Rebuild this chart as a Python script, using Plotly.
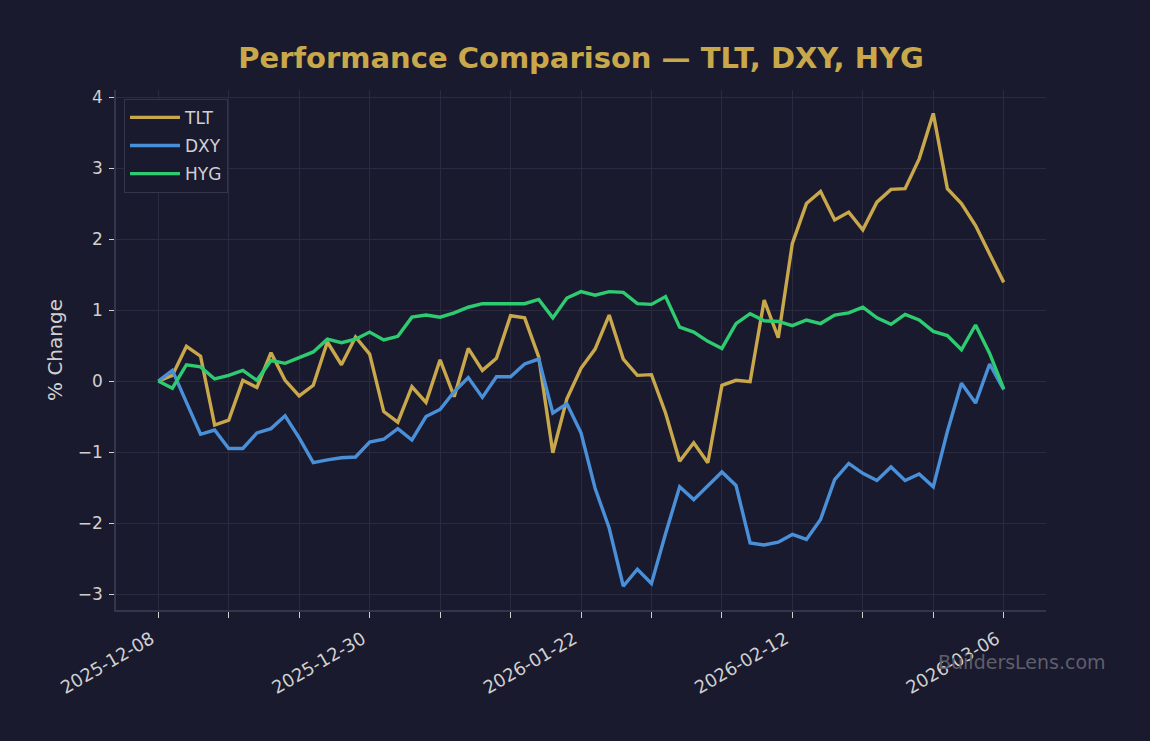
import plotly.graph_objects as go

dates = [
    "2025-12-08", "2025-12-09", "2025-12-10", "2025-12-11", "2025-12-12",
    "2025-12-15", "2025-12-16", "2025-12-17", "2025-12-18", "2025-12-19",
    "2025-12-22", "2025-12-23", "2025-12-24", "2025-12-26", "2025-12-29",
    "2025-12-30", "2025-12-31", "2026-01-02", "2026-01-05", "2026-01-06",
    "2026-01-07", "2026-01-08", "2026-01-09", "2026-01-12", "2026-01-13",
    "2026-01-14", "2026-01-15", "2026-01-16", "2026-01-20", "2026-01-21",
    "2026-01-22", "2026-01-23", "2026-01-26", "2026-01-27", "2026-01-28",
    "2026-01-29", "2026-01-30", "2026-02-02", "2026-02-03", "2026-02-04",
    "2026-02-05", "2026-02-06", "2026-02-09", "2026-02-10", "2026-02-11",
    "2026-02-12", "2026-02-13", "2026-02-17", "2026-02-18", "2026-02-19",
    "2026-02-20", "2026-02-23", "2026-02-24", "2026-02-25", "2026-02-26",
    "2026-02-27", "2026-03-02", "2026-03-03", "2026-03-04", "2026-03-05",
    "2026-03-06",
]

tlt = [0.00, 0.08, 0.49, 0.35, -0.62, -0.55, 0.01, -0.09, 0.40, 0.01,
       -0.21, -0.06, 0.55, 0.23, 0.62, 0.38, -0.43, -0.58, -0.08, -0.30,
       0.30, -0.22, 0.46, 0.15, 0.32, 0.92, 0.89, 0.34, -1.01, -0.25,
       0.18, 0.45, 0.93, 0.31, 0.08, 0.09, -0.45, -1.13, -0.87, -1.15,
       -0.06, 0.01, -0.01, 1.14, 0.61, 1.94, 2.50, 2.67, 2.27, 2.38,
       2.13, 2.52, 2.70, 2.71, 3.13, 3.77, 2.71, 2.50, 2.19, 1.78, 1.39]

dxy = [0.00, 0.15, -0.30, -0.75, -0.69, -0.95, -0.95, -0.73, -0.67, -0.49,
       -0.80, -1.15, -1.11, -1.08, -1.07, -0.86, -0.82, -0.67, -0.83, -0.50,
       -0.40, -0.15, 0.05, -0.23, 0.06, 0.06, 0.24, 0.31, -0.45, -0.32,
       -0.73, -1.51, -2.07, -2.89, -2.65, -2.85, -2.15, -1.49, -1.67, -1.47,
       -1.28, -1.47, -2.28, -2.31, -2.27, -2.16, -2.23, -1.95, -1.39, -1.16,
       -1.30, -1.40, -1.21, -1.40, -1.31, -1.49, -0.71, -0.03, -0.31, 0.24, -0.12]

hyg = [0.00, -0.10, 0.23, 0.20, 0.03, 0.08, 0.15, 0.01, 0.29, 0.25,
       0.33, 0.41, 0.59, 0.54, 0.59, 0.69, 0.58, 0.63, 0.90, 0.93,
       0.90, 0.96, 1.04, 1.09, 1.09, 1.09, 1.09, 1.15, 0.89, 1.17,
       1.26, 1.21, 1.26, 1.25, 1.09, 1.08, 1.19, 0.76, 0.69, 0.56,
       0.46, 0.81, 0.95, 0.85, 0.84, 0.78, 0.86, 0.81, 0.93, 0.96,
       1.04, 0.89, 0.80, 0.94, 0.86, 0.70, 0.64, 0.44, 0.79, 0.39, -0.11]

series = [("TLT", tlt, "#c9a84c"), ("DXY", dxy, "#4a90d9"), ("HYG", hyg, "#2ecc71")]

BG = "#1a1a2e"
GRID = "#2a2a40"
SPINE = "#34344a"
TXT = "#d0d0d0"
FONT = "DejaVu Sans"

tickvals = dates[::5]
ticktext = [d if (i * 5) % 15 == 0 else "" for i, d in enumerate(tickvals)]

fig = go.Figure()
for name, vals, color in series:
    fig.add_trace(go.Scatter(x=dates, y=vals, mode="lines", name=name,
                             legendgroup=name,
                             line=dict(color=color, width=3.4)))

fig.update_layout(
    width=1150, height=741,
    paper_bgcolor=BG, plot_bgcolor=BG,
    margin=dict(l=116, r=104, t=90, b=131),
    font=dict(family=FONT, color=TXT, size=17),
    title=dict(text="<b>Performance Comparison — TLT, DXY, HYG</b>",
               font=dict(family=FONT, size=29, color="#c9a84c"),
               x=0.5, xref="paper", xanchor="center",
               y=1 - 58 / 741, yanchor="middle"),
    showlegend=True,
    legend=dict(x=0.0086, y=0.983, xanchor="left", yanchor="top",
                bgcolor=BG, bordercolor=SPINE, borderwidth=1,
                itemwidth=50, tracegroupgap=3,
                font=dict(family=FONT, size=17, color=TXT)),
    annotations=[dict(text="BuildersLens.com", xref="paper", yref="paper",
                      x=(1022 - 116) / 930, y=(610 - 662) / 520,
                      xanchor="center", yanchor="middle", showarrow=False,
                      font=dict(family=FONT, size=19, color="#5e5e6c"))],
)

fig.update_xaxes(
    type="category", range=[-3, 63],
    tickmode="array", tickvals=tickvals, ticktext=ticktext,
    tickangle=-30, ticks="outside", ticklen=6, tickcolor=TXT, tickwidth=1,
    ticklabelshift=-7, ticklabelstandoff=4,
    showgrid=True, gridcolor=GRID, gridwidth=1,
    showline=True, linecolor=SPINE, linewidth=1.5, mirror=False,
    zeroline=False, tickfont=dict(size=18, color=TXT),
)
fig.update_yaxes(
    range=[-3.225, 4.10], tickmode="array", tickvals=[-3, -2, -1, 0, 1, 2, 3, 4],
    ticks="outside", ticklen=5, tickcolor=TXT, tickwidth=1,
    ticklabelstandoff=3,
    showgrid=True, gridcolor=GRID, gridwidth=1,
    showline=True, linecolor=SPINE, linewidth=1.5,
    zeroline=False, tickfont=dict(size=17, color=TXT),
    title=dict(text="% Change", font=dict(size=20, color=TXT), standoff=10),
)

fig.write_html("out.html")
